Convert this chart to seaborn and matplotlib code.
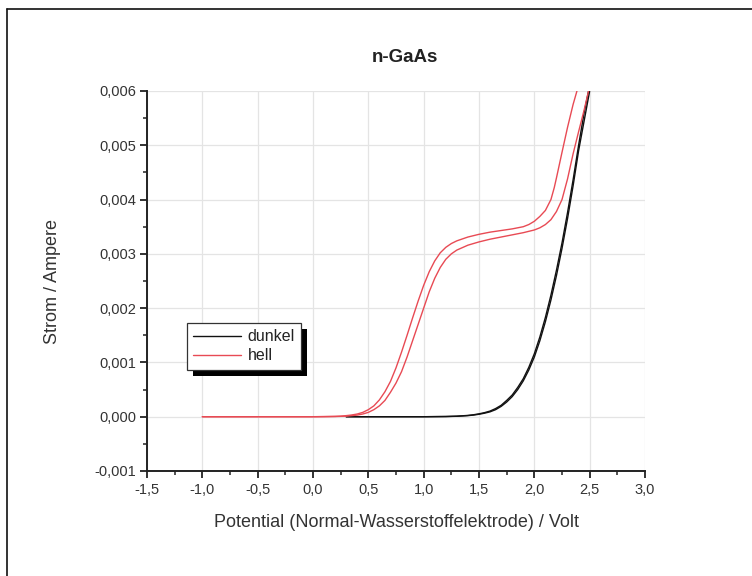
import numpy as np
import pandas as pd
import seaborn as sns
import matplotlib
matplotlib.use("Agg")
import matplotlib.pyplot as plt
from matplotlib.ticker import MultipleLocator, FuncFormatter
from matplotlib.patches import Rectangle
from matplotlib.lines import Line2D

# Strom-Spannungs-Kennlinien n-GaAs (Hin- und Rückscan)
dunkel_U = [0.30, 1.00, 1.20, 1.30, 1.40, 1.45, 1.50, 1.55, 1.60, 1.65, 1.70, 1.75, 1.80,
            1.85, 1.90, 1.95, 2.00, 2.05, 2.10, 2.15, 2.20, 2.25, 2.30, 2.35, 2.40, 2.45, 2.50]
dunkel_hin_I = [0.0, 0.0, 0.000003, 0.000008, 0.00002, 0.00003, 0.000045, 0.000065, 0.00009,
                0.00013, 0.00019, 0.00027, 0.00037, 0.0005, 0.00066, 0.00086, 0.0011, 0.0014,
                0.00175, 0.00215, 0.0026, 0.0031, 0.00365, 0.00425, 0.0049, 0.00545, 0.0060]
dunkel_rueck_I = [0.0, 0.0, 0.000004, 0.00001, 0.000024, 0.000036, 0.000053, 0.000075, 0.000104,
                  0.00015, 0.00021, 0.0003, 0.0004, 0.00054, 0.0007, 0.00091, 0.00116, 0.00147,
                  0.00183, 0.00224, 0.0027, 0.0032, 0.00376, 0.00436, 0.005, 0.0056, 0.0061]

hell_hin_U = [-1.00, 0.00, 0.10, 0.20, 0.25, 0.30, 0.35, 0.40, 0.45, 0.50, 0.55, 0.60, 0.65,
              0.70, 0.75, 0.80, 0.85, 0.90, 0.95, 1.00, 1.05, 1.10, 1.15, 1.20, 1.25, 1.30,
              1.40, 1.50, 1.60, 1.70, 1.80, 1.90, 1.95, 2.00, 2.05, 2.10, 2.12, 2.15, 2.18,
              2.20, 2.25, 2.30, 2.35, 2.385]
hell_hin_I = [0.0, 0.0, 0.000002, 0.000006, 0.00001, 0.00002, 0.000032, 0.00005, 0.00008,
              0.00013, 0.0002, 0.00031, 0.00046, 0.00065, 0.0009, 0.00119, 0.0015, 0.00182,
              0.00213, 0.00242, 0.00267, 0.00287, 0.00302, 0.00312, 0.00319, 0.00324, 0.00331,
              0.00336, 0.0034, 0.00343, 0.00346, 0.0035, 0.00354, 0.0036, 0.00369, 0.0038,
              0.00388, 0.004, 0.00422, 0.0044, 0.00487, 0.00533, 0.00575, 0.0060]

hell_rueck_U = [-1.00, 0.00, 0.20, 0.30, 0.35, 0.40, 0.45, 0.50, 0.55, 0.60, 0.65, 0.70, 0.75,
                0.80, 0.85, 0.90, 0.95, 1.00, 1.05, 1.10, 1.15, 1.20, 1.25, 1.30, 1.40, 1.50,
                1.60, 1.70, 1.80, 1.90, 2.00, 2.05, 2.10, 2.15, 2.20, 2.25, 2.30, 2.35, 2.40,
                2.45, 2.49]
hell_rueck_I = [0.0, 0.0, 0.000004, 0.00001, 0.00002, 0.00003, 0.00005, 0.00008, 0.00013,
                0.0002, 0.0003, 0.00045, 0.00062, 0.00083, 0.0011, 0.0014, 0.0017, 0.002,
                0.0023, 0.00255, 0.00275, 0.0029, 0.003, 0.00307, 0.00316, 0.00322, 0.00327,
                0.00331, 0.00335, 0.00339, 0.00344, 0.00348, 0.00354, 0.00363, 0.00378, 0.004,
                0.00438, 0.00484, 0.00525, 0.00565, 0.0060]

frames = []
for messung, scan, u, i in [("dunkel", "hin", dunkel_U, dunkel_hin_I),
                            ("dunkel", "rueck", dunkel_U, dunkel_rueck_I),
                            ("hell", "hin", hell_hin_U, hell_hin_I),
                            ("hell", "rueck", hell_rueck_U, hell_rueck_I)]:
    frames.append(pd.DataFrame({"U": u, "I": i, "Messung": messung, "Scan": scan}))
df = pd.concat(frames, ignore_index=True)

sns.set_theme(style="white")
plt.rcParams["font.family"] = ["Liberation Sans", "DejaVu Sans"]

farben = {"dunkel": "#111111", "hell": "#e84a54"}

fig = plt.figure(figsize=(7.52, 5.76), dpi=100)
fig.patch.set_facecolor("white")
ax = fig.add_axes([147 / 752, 1 - 471 / 576, 498 / 752, 380 / 576])

sns.lineplot(data=df, x="U", y="I", hue="Messung", units="Scan", estimator=None,
             sort=False, palette=farben, linewidth=1.0, legend=False, ax=ax)

ax.set_xlim(-1.5, 3.0)
ax.set_ylim(-0.001, 0.006)
ax.xaxis.set_major_locator(MultipleLocator(0.5))
ax.xaxis.set_minor_locator(MultipleLocator(0.25))
ax.yaxis.set_major_locator(MultipleLocator(0.001))
ax.yaxis.set_minor_locator(MultipleLocator(0.0005))
ax.xaxis.set_major_formatter(FuncFormatter(lambda v, p: f"{v:.1f}".replace(".", ",").replace("\u2212", "-")))
ax.yaxis.set_major_formatter(FuncFormatter(lambda v, p: f"{v:.3f}".replace(".", ",").replace("\u2212", "-")))

ax.grid(True, which="major", color="#e4e4e4", linewidth=0.9)
ax.set_axisbelow(True)
for s in ("top", "right"):
    ax.spines[s].set_visible(False)
for s in ("left", "bottom"):
    ax.spines[s].set_color("#222222")
    ax.spines[s].set_linewidth(1.4)
ax.tick_params(which="major", direction="out", length=5, width=1.3, color="#222222",
               labelsize=10.5, labelcolor="#333333", bottom=True, left=True)
ax.tick_params(axis="x", which="major", pad=4)
ax.tick_params(axis="y", which="major", pad=3)
ax.tick_params(which="minor", direction="out", length=3, width=1.1, color="#222222",
               bottom=True, left=True)

ax.set_xlabel("Potential (Normal-Wasserstoffelektrode) / Volt", fontsize=13, color="#333333", labelpad=12)
ax.set_ylabel("Strom / Ampere", fontsize=13, color="#333333", labelpad=24)
fig.text(405 / 752, 1 - 58 / 576, "n-GaAs", fontsize=13.5, fontweight="bold",
         color="#222222", ha="center", va="center")

handles = [Line2D([], [], color=farben["dunkel"], linewidth=1.0),
           Line2D([], [], color=farben["hell"], linewidth=1.0)]
leg = ax.legend(handles, ["dunkel", "hell"], loc="upper left",
                bbox_to_anchor=(40 / 498, 148 / 380), borderaxespad=0, fontsize=11.5,
                frameon=True, fancybox=False, handlelength=3.0, handletextpad=0.4,
                labelspacing=0.25, borderpad=0.4)
leg.get_frame().set_edgecolor("#333333")
leg.get_frame().set_linewidth(0.9)
leg.get_frame().set_facecolor("white")
leg.get_frame().set_alpha(1)
for t in leg.get_texts():
    t.set_color("#222222")

# black drop shadow behind the legend box
fig.canvas.draw()
bb = leg.get_window_extent().transformed(ax.transAxes.inverted())
dx, dy = 6 / 498, 6 / 380
ax.add_patch(Rectangle((bb.x0 + dx, bb.y0 - dy), bb.width, bb.height, transform=ax.transAxes,
                       facecolor="black", edgecolor="none", zorder=leg.get_zorder() - 0.1,
                       clip_on=False))

# page frame
fig.add_artist(Line2D([7 / 752, 7 / 752], [0, 1 - 9 / 576], transform=fig.transFigure,
                      color="#111111", linewidth=1.2))
fig.add_artist(Line2D([7 / 752, 1], [1 - 9 / 576, 1 - 9 / 576], transform=fig.transFigure,
                      color="#111111", linewidth=1.2))

fig.savefig("out.png", dpi=100, facecolor="white")
